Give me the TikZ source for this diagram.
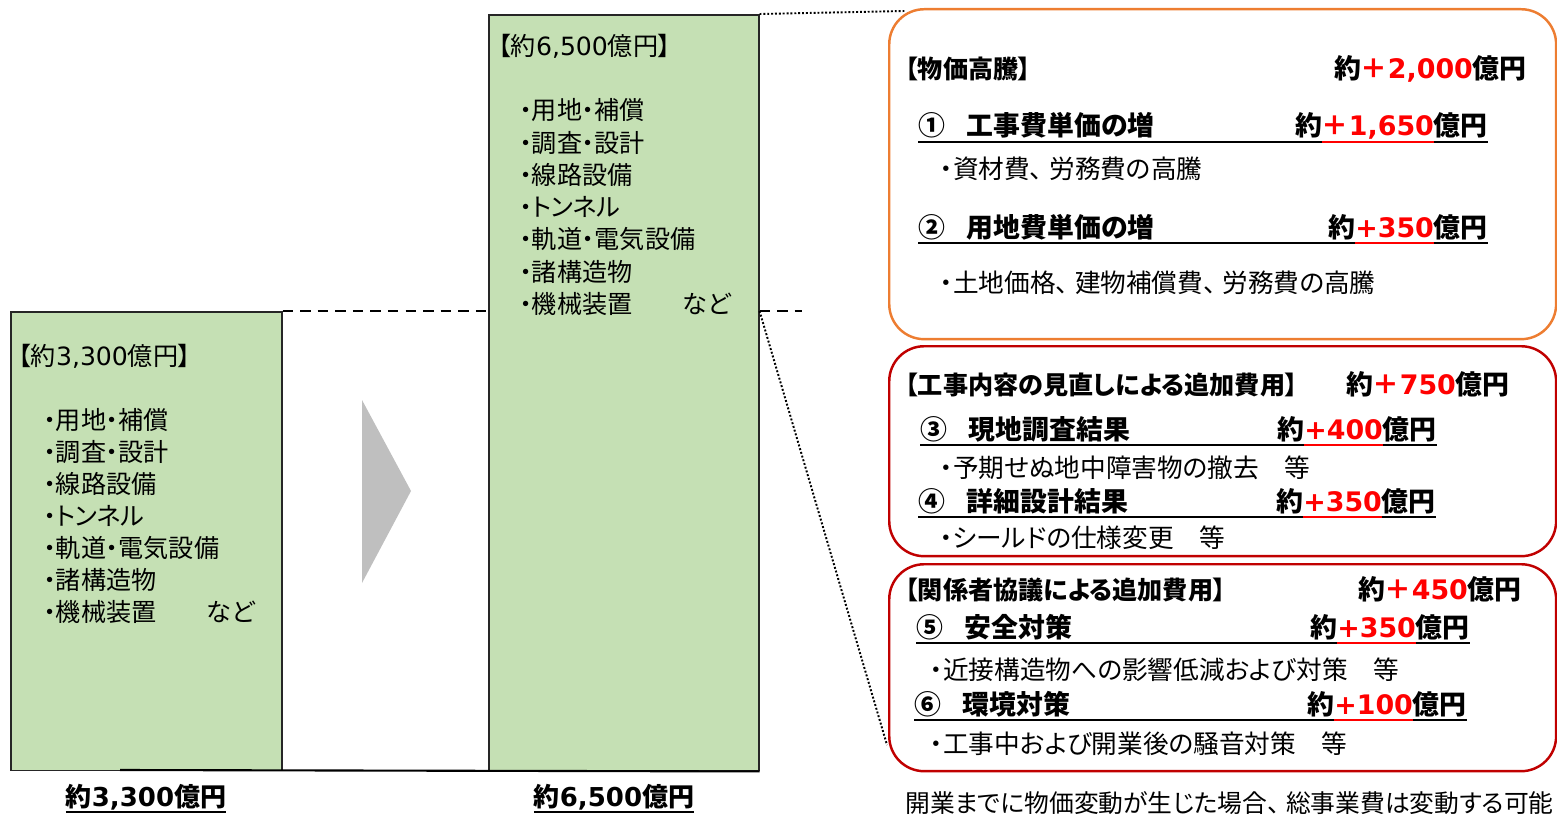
\documentclass[tikz,border=0pt]{standalone}
\usepackage{fontspec}
\setmainfont{Noto Sans CJK JP}[RawFeature=+palt]
\newfontfamily\numfont{DejaVu Sans}
\definecolor{barfill}{HTML}{C5E0B4}
\definecolor{priceline}{HTML}{ED7D31}
\definecolor{addline}{HTML}{C00000}
\definecolor{arrowgray}{HTML}{BFBFBF}
\newcommand\digits[1]{{\numfont #1}}
\newcommand\comma{\hbox to 0.75em{、\hss}}
\newcommand\ulbar[2]{\setbox0\hbox{#2}\rlap{\color{#1}\rule[-4pt]{\wd0}{1.1pt}}\box0}
\newcommand\amount[2]{\ulbar{black}{約}\ulbar{red}{\textcolor{red}{#1\digits{#2}}}\ulbar{black}{億円}}
\newcommand\headamount[2]{約\textcolor{red}{#1\digits{#2}}億円}
\tikzset{
	bar/.style={draw=black!85, line width=0.9pt, fill=barfill, anchor=north west, inner sep=0pt},
	costbox/.style={line width=1.4pt, rounded corners=0.7cm, anchor=north west, inner sep=0pt, minimum width=13.34cm},
	txt/.style={anchor=base west, inner sep=0pt, font=\fontsize{14.3}{16}\selectfont},
	notetxt/.style={txt, font=\fontsize{14.6}{16}\selectfont},
	head/.style={txt, font=\fontsize{14.3}{16}\selectfont\bfseries},
	rowhead/.style={txt, font=\fontsize{15.3}{16}\selectfont\bfseries},
	amt/.style={rowhead, anchor=base east},
	total/.style={rowhead, anchor=base, font=\fontsize{14.8}{16}\selectfont\bfseries},
	ulline/.style={line width=1.1pt},
	dashline/.style={line width=1.2pt, dash pattern=on 6pt off 4pt},
	dotline/.style={line width=1.1pt, dash pattern=on 1.1pt off 1.1pt}
}

\begin{document}
\begin{tikzpicture}[x=0.02cm, y=-0.02cm]
	%%%%% START %%%%%
	\useasboundingbox (0,0) rectangle (1557,814);
	
	% bars
	\node[bar, minimum width=5.42cm, minimum height=9.18cm] (oldbar) at (10,311) {};
	\node[bar, minimum width=5.4cm, minimum height=15.12cm] (newbar) at (488,14) {};
	\coordinate (axisstart) at (120,770);
	\draw[line width=1.2pt] (axisstart) -- (newbar.south east);
	
	\draw[dashline] (oldbar.north east) -- (oldbar.north east -| newbar.west);
	\draw[dashline] (newbar.east |- oldbar.north) -- ++(42,0);
	
	\fill[arrowgray] (362,400) -- (411,491) -- (362,583) -- cycle;
	
	\node[txt] (oldhead) at (18,365) {【約\digits{3,300}億円】};
	\foreach \entry [count=\i] in {・用地・補償, ・調査・設計, ・線路設備, ・トンネル, ・軌道・電気設備, ・諸構造物, ・機械装置　　など}
		\node[txt] (old\i) at (43,397+32*\i) {\entry};
	
	\node[txt] (newhead) at (498,56) {【約\digits{6,500}億円】};
	\foreach \entry [count=\i] in {・用地・補償, ・調査・設計, ・線路設備, ・トンネル, ・軌道・電気設備, ・諸構造物, ・機械装置　　など}
		\node[txt] (new\i) at (519,87.8+32.2*\i) {\entry};
	
	\node[total] (oldtotal) at (146,806) {\ulbar{black}{約\digits{3,300}億円}};
	\node[total] (newtotal) at (614,806) {\ulbar{black}{約\digits{6,500}億円}};
	
	% price rise
	\node[costbox, draw=priceline, minimum height=6.6cm] (pricebox) at (888,8) {};
	\node[head] (pricehead) at (905,79) {【物価高騰】};
	\node[amt] (priceamt) at (1527,79) {\headamount{＋}{2,000}};
	\node[rowhead] (r1lbl) at (918,136) {①\hspace{0.8em}工事費単価の増};
	\node[amt] (r1amt) at (1488,136) {\amount{＋}{1,650}};
	\draw[ulline] ([yshift=-3.45pt]r1lbl.base west) -- ([yshift=-3.45pt]r1amt.base west);
	\node[notetxt] (r1note) at (940,179) {・資材費\comma 労務費の高騰};
	\node[rowhead] (r2lbl) at (918,237) {②\hspace{0.8em}用地費単価の増};
	\node[amt] (r2amt) at (1488,237) {\amount{}{+350}};
	\draw[ulline] ([yshift=-3.45pt]r2lbl.base west) -- ([yshift=-3.45pt]r2amt.base west);
	\node[notetxt] (r2note) at (940,292) {・土地価格\comma 建物補償費\comma 労務費の高騰};
	
	% review of works
	\node[costbox, draw=addline, minimum height=4.2cm] (reviewbox) at (888,345) {};
	\node[head] (reviewhead) at (905,394) {【工事内容の見直しによる追加費用】};
	\node[amt] (reviewamt) at (1510,394) {\headamount{＋}{750}};
	\node[rowhead] (r3lbl) at (920,439) {③\hspace{0.8em}現地調査結果};
	\node[amt] (r3amt) at (1437,439) {\amount{}{+400}};
	\draw[ulline] ([yshift=-3.45pt]r3lbl.base west) -- ([yshift=-3.45pt]r3amt.base west);
	\node[notetxt] (r3note) at (940,477) {・予期せぬ地中障害物の撤去　等};
	\node[rowhead] (r4lbl) at (918,511) {④\hspace{0.8em}詳細設計結果};
	\node[amt] (r4amt) at (1436,511) {\amount{}{+350}};
	\draw[ulline] ([yshift=-3.45pt]r4lbl.base west) -- ([yshift=-3.45pt]r4amt.base west);
	\node[notetxt] (r4note) at (940,547) {・シールドの仕様変更　等};
	
	% consultation
	\node[costbox, draw=addline, minimum height=4.14cm] (talkbox) at (888,563) {};
	\node[head] (talkhead) at (905,599) {【関係者協議による追加費用】};
	\node[amt] (talkamt) at (1522,599) {\headamount{＋}{450}};
	\node[rowhead] (r5lbl) at (916,637) {⑤\hspace{0.8em}安全対策};
	\node[amt] (r5amt) at (1470,637) {\amount{}{+350}};
	\draw[ulline] ([yshift=-3.45pt]r5lbl.base west) -- ([yshift=-3.45pt]r5amt.base west);
	\node[notetxt] (r5note) at (930,679) {・近接構造物への影響低減および対策　等};
	\node[rowhead] (r6lbl) at (914,714) {⑥\hspace{0.8em}環境対策};
	\node[amt] (r6amt) at (1467,714) {\amount{}{+100}};
	\draw[ulline] ([yshift=-3.45pt]r6lbl.base west) -- ([yshift=-3.45pt]r6amt.base west);
	\node[notetxt] (r6note) at (930,753) {・工事中および開業後の騒音対策　等};
	
	% zoom lines
	\coordinate (topend) at (905,11);
	\coordinate (lowend) at (887,745);
	\draw[dotline] (newbar.north east) -- (topend);
	\draw[dotline] (newbar.east |- oldbar.north) -- (lowend);
	
	\node[notetxt, font=\fontsize{14.1}{16}\selectfont] (note) at (905,812) {開業までに物価変動が生じた場合\comma 総事業費は変動する可能};
	%%%%% END %%%%%
\end{tikzpicture}
\end{document}
